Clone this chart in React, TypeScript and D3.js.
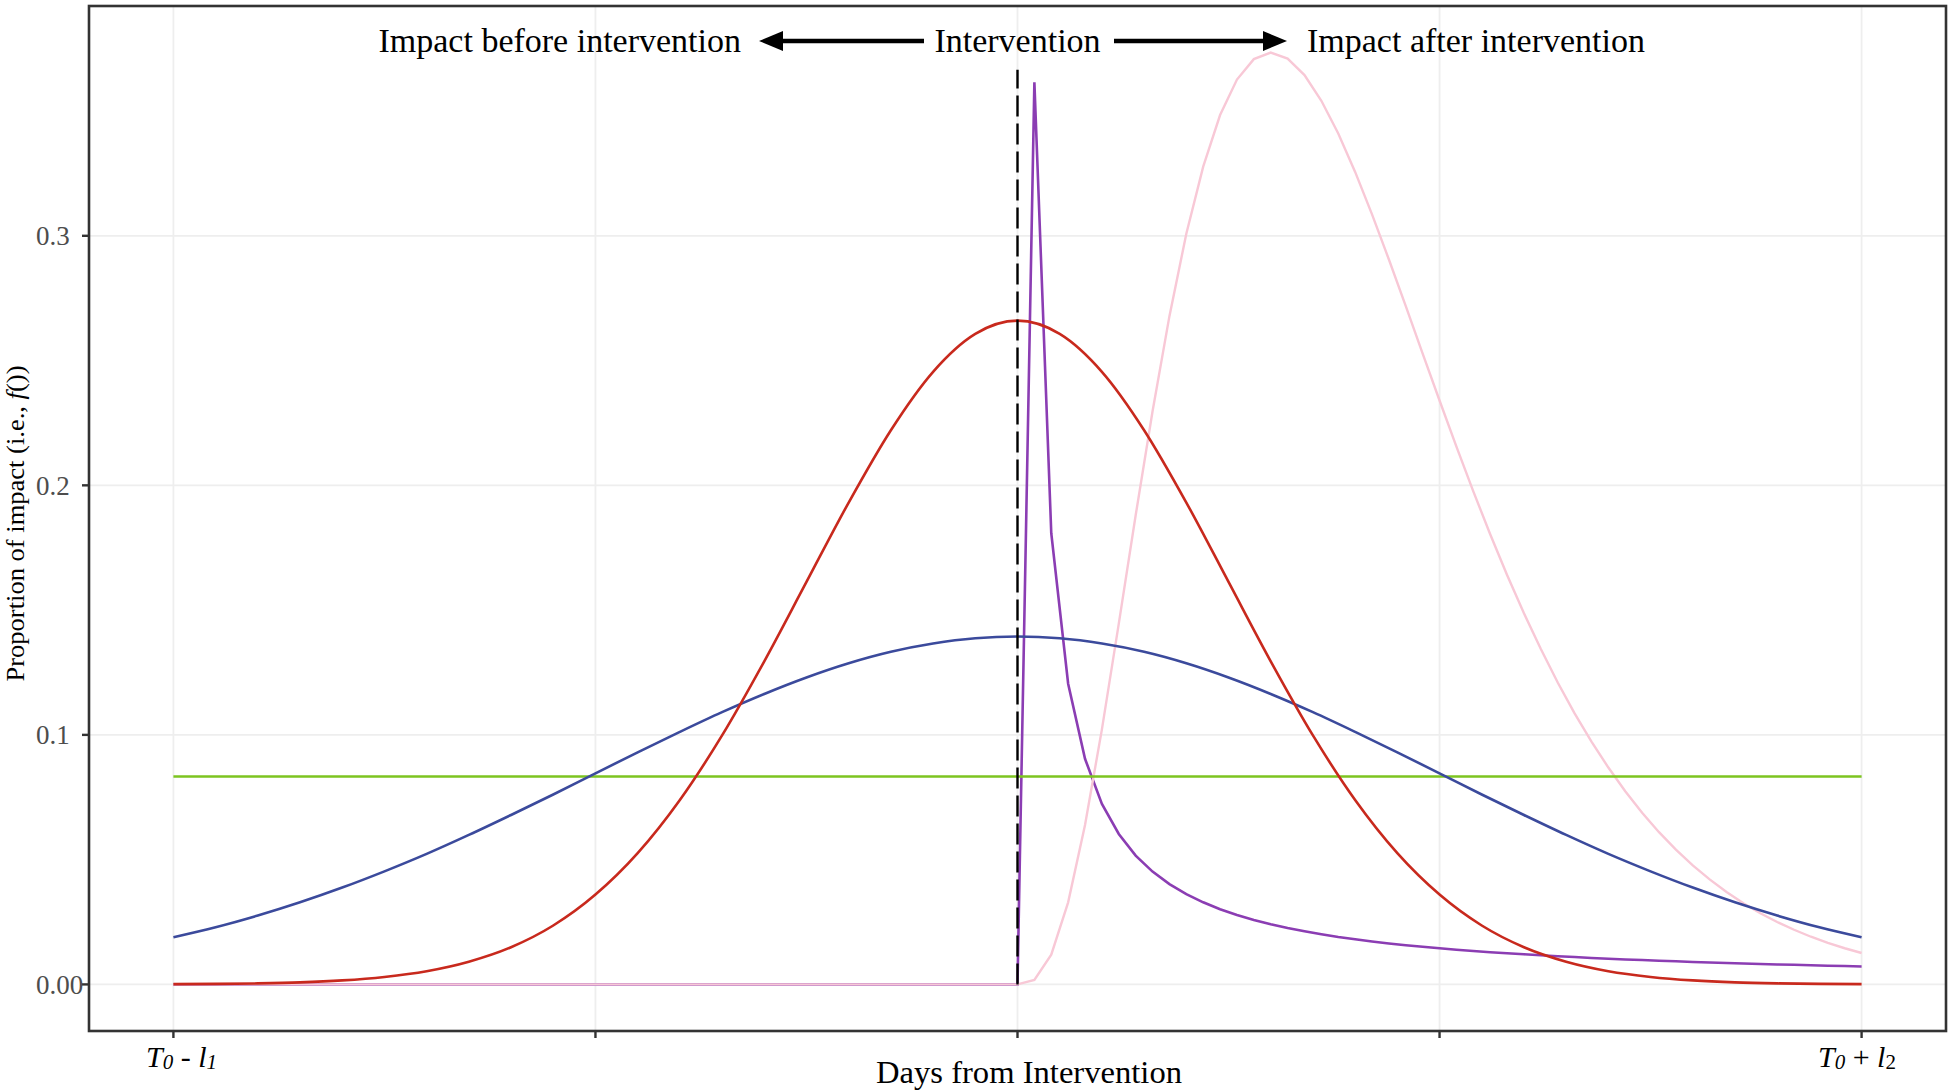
import React from "react";
import * as d3 from "d3";

// ---- data (x = sample index along the window, 50 = intervention) ----
const xTickDays = [0, 25, 50, 75, 100];
const yTicks = [0, 0.1, 0.2, 0.3];
const yTickLabels = ["0.00", "0.1", "0.2", "0.3"];

const smoothDays = [0, 2.5, 5, 7.5, 10, 12.5, 15, 17.5, 20, 22.5, 25, 27.5, 30, 32.5, 35, 37.5, 40, 42.5, 45, 47.5, 50, 52.5, 55, 57.5, 60, 62.5, 65, 67.5, 70, 72.5, 75, 77.5, 80, 82.5, 85, 87.5, 90, 92.5, 95, 97.5, 100];
const redValues = [0.0001, 0.0002, 0.0004, 0.0008, 0.0016, 0.003, 0.0053, 0.0091, 0.0149, 0.0236, 0.036, 0.0526, 0.0739, 0.0998, 0.1295, 0.1613, 0.1931, 0.2221, 0.2455, 0.2607, 0.266, 0.2607, 0.2455, 0.2221, 0.1931, 0.1613, 0.1295, 0.0998, 0.0739, 0.0526, 0.036, 0.0236, 0.0149, 0.0091, 0.0053, 0.003, 0.0016, 0.0008, 0.0004, 0.0002, 0.0001];
const blueValues = [0.0189, 0.0229, 0.0276, 0.0329, 0.0388, 0.0453, 0.0523, 0.0599, 0.0679, 0.0761, 0.0846, 0.093, 0.1012, 0.1091, 0.1164, 0.123, 0.1287, 0.1333, 0.1366, 0.1387, 0.1394, 0.1387, 0.1366, 0.1333, 0.1287, 0.123, 0.1164, 0.1091, 0.1012, 0.093, 0.0846, 0.0761, 0.0679, 0.0599, 0.0523, 0.0453, 0.0388, 0.0329, 0.0276, 0.0229, 0.0189];

const greenDays = [0, 100];
const greenValues = [0.0833, 0.0833];

const afterDays = [0, 50, 51, 52, 53, 54, 55, 56, 57, 58, 59, 60, 61, 62, 63, 64, 65, 66, 67, 68, 69, 70, 71, 72, 73, 74, 75, 76, 77, 78, 79, 80, 81, 82, 83, 84, 85, 86, 87, 88, 89, 90, 91, 92, 93, 94, 95, 96, 97, 98, 99, 100];
const purpleValues = [0, 0, 0.3615, 0.1808, 0.1205, 0.0904, 0.0723, 0.0603, 0.0516, 0.0452, 0.0402, 0.0362, 0.0329, 0.0301, 0.0278, 0.0258, 0.0241, 0.0226, 0.0213, 0.0201, 0.019, 0.0181, 0.0172, 0.0164, 0.0157, 0.0151, 0.0145, 0.0139, 0.0134, 0.0129, 0.0125, 0.0121, 0.0117, 0.0113, 0.011, 0.0106, 0.0103, 0.01, 0.0098, 0.0095, 0.0093, 0.009, 0.0088, 0.0086, 0.0084, 0.0082, 0.008, 0.0079, 0.0077, 0.0075, 0.0074, 0.0072];
const pinkValues = [0, 0, 0.0018, 0.0119, 0.0329, 0.0639, 0.1022, 0.1446, 0.188, 0.2297, 0.2678, 0.3008, 0.3277, 0.3484, 0.3626, 0.3708, 0.3734, 0.371, 0.3644, 0.3541, 0.341, 0.3256, 0.3086, 0.2905, 0.2718, 0.2528, 0.234, 0.2155, 0.1976, 0.1804, 0.1641, 0.1487, 0.1344, 0.121, 0.1086, 0.0973, 0.0869, 0.0774, 0.0688, 0.061, 0.054, 0.0477, 0.0421, 0.037, 0.0325, 0.0285, 0.025, 0.0219, 0.0191, 0.0166, 0.0145, 0.0126];

const interventionDay = 50;
const interventionTop = 0.3665;

const W = 1952;
const H = 1092;
const P = { left: 89, right: 1946, top: 6, bottom: 1031 };
const FONT = "'Liberation Serif', 'Times New Roman', serif";

export default function App() {
  const x = d3.scaleLinear().domain([-5, 105]).range([P.left, P.right]);
  const y = d3.scaleLinear().domain([-0.01867, 0.39209]).range([P.bottom, P.top]);

  const smooth = d3
    .line<number>()
    .x((_, i) => x(smoothDays[i]))
    .y((d) => y(d))
    .curve(d3.curveMonotoneX);
  const lin = (days: number[]) =>
    d3
      .line<number>()
      .x((_, i) => x(days[i]))
      .y((d) => y(d));

  const arrowY = 41;
  const leftStart = 924, leftTip = 759;
  const rightStart = 1114, rightTip = 1287;
  const head = 24, half = 10;

  return (
    <svg width={W} height={H} style={{ position: "absolute", left: 0, top: 0, background: "#fff" }} fontFamily={FONT}>
      <rect x={0} y={0} width={W} height={H} fill="#fff" />
      {/* grid */}
      {xTickDays.map((d) => (
        <line key={"gx" + d} x1={x(d)} x2={x(d)} y1={P.top} y2={P.bottom} stroke="#EEEEEE" strokeWidth={1.8} />
      ))}
      {yTicks.map((v) => (
        <line key={"gy" + v} x1={P.left} x2={P.right} y1={y(v)} y2={y(v)} stroke="#EEEEEE" strokeWidth={1.8} />
      ))}

      {/* series */}
      <path d={lin(afterDays)(purpleValues) || ""} fill="none" stroke="#8B3DB3" strokeWidth={2.6} />
      <path d={lin(afterDays)(pinkValues) || ""} fill="none" stroke="#F8C8D6" strokeWidth={2.4} />
      <path d={lin(greenDays)(greenValues) || ""} fill="none" stroke="#7DC420" strokeWidth={2.4} />
      <path d={smooth(blueValues) || ""} fill="none" stroke="#3B4A9C" strokeWidth={2.6} />
      <path d={smooth(redValues) || ""} fill="none" stroke="#C8291D" strokeWidth={2.6} />

      {/* intervention line */}
      <line x1={x(interventionDay)} x2={x(interventionDay)} y1={y(0)} y2={y(interventionTop)} stroke="#000" strokeWidth={2.4} strokeDasharray="21 7" />

      {/* annotations */}
      <text x={741} y={52} fontSize={34} textAnchor="end" fill="#000">Impact before intervention</text>
      <text x={x(interventionDay)} y={52} fontSize={34} textAnchor="middle" fill="#000">Intervention</text>
      <text x={1307} y={52} fontSize={34} textAnchor="start" fill="#000">Impact after intervention</text>
      <line x1={leftStart} x2={leftTip + head - 2} y1={arrowY} y2={arrowY} stroke="#000" strokeWidth={4.5} />
      <polygon points={`${leftTip},${arrowY} ${leftTip + head},${arrowY - half} ${leftTip + head},${arrowY + half}`} fill="#000" />
      <line x1={rightStart} x2={rightTip - head + 2} y1={arrowY} y2={arrowY} stroke="#000" strokeWidth={4.5} />
      <polygon points={`${rightTip},${arrowY} ${rightTip - head},${arrowY - half} ${rightTip - head},${arrowY + half}`} fill="#000" />

      {/* panel border */}
      <rect x={P.left} y={P.top} width={P.right - P.left} height={P.bottom - P.top} fill="none" stroke="#333" strokeWidth={2.6} />

      {/* y axis */}
      {yTicks.map((v, i) => (
        <g key={"yt" + v}>
          <line x1={P.left - 7} x2={P.left} y1={y(v)} y2={y(v)} stroke="#333" strokeWidth={2.4} />
          <text x={36} y={y(v) + 9.5} fontSize={27} fill="#4D4D4D">{yTickLabels[i]}</text>
        </g>
      ))}
      {/* x axis */}
      {xTickDays.map((d) => (
        <line key={"xt" + d} x1={x(d)} x2={x(d)} y1={P.bottom} y2={P.bottom + 7} stroke="#333" strokeWidth={2.4} />
      ))}
      <text x={146} y={1067} fontSize={30} fill="#000">
        <tspan fontStyle="italic">T</tspan>
        <tspan fontStyle="italic" fontSize={21} dy={2}>0</tspan>
        <tspan dy={-2}>{" - "}</tspan>
        <tspan fontStyle="italic">l</tspan>
        <tspan fontStyle="italic" fontSize={21} dy={2}>1</tspan>
      </text>
      <text x={1818} y={1067} fontSize={30} fill="#000">
        <tspan fontStyle="italic">T</tspan>
        <tspan fontStyle="italic" fontSize={21} dy={2}>0</tspan>
        <tspan dy={-2}>{" + "}</tspan>
        <tspan fontStyle="italic">l</tspan>
        <tspan fontSize={21} dy={2}>2</tspan>
      </text>

      {/* axis titles */}
      <text x={1029} y={1083} fontSize={31} textAnchor="middle" textLength={306} lengthAdjust="spacingAndGlyphs" fill="#000">Days from Intervention</text>
      <text transform={`translate(24,${(P.top + P.bottom) / 2 + 5}) rotate(-90)`} fontSize={25} textAnchor="middle" textLength={316} lengthAdjust="spacingAndGlyphs" fill="#000">
        Proportion of impact (i.e., <tspan fontStyle="italic">f</tspan>())
      </text>
    </svg>
  );
}
